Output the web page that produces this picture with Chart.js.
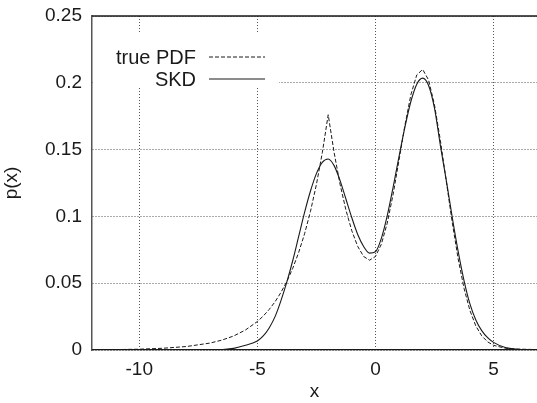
<!DOCTYPE html>
<html>
<head>
<meta charset="utf-8">
<script src="https://cdn.jsdelivr.net/npm/chart.js@4"></script>
<style>
  html, body { margin: 0; padding: 0; background: #fff; overflow: hidden; }
  #wrap { position: relative; width: 537px; height: 403px; }
</style>
</head>
<body>
<div id="wrap"><canvas id="chart"></canvas></div>
<script>
// sample positions along x (shared by both curves)
const xs = [-12, -11, -10, -9, -8, -7, -6.5, -6, -5.5,
  -5, -4.75, -4.5, -4.25, -4, -3.75, -3.5, -3.25, -3, -2.75, -2.5, -2.25,
  -2, -1.75, -1.5, -1.25, -1, -0.75, -0.5, -0.25, 0, 0.25, 0.5, 0.75,
  1, 1.25, 1.5, 1.75, 2, 2.25, 2.5, 2.75, 3, 3.25, 3.5, 3.75,
  4, 4.25, 4.5, 4.75, 5, 5.5, 6, 6.5, 7];

const truePdf = [0.00015, 0.0003, 0.0006, 0.0013, 0.0026, 0.0052, 0.0074, 0.0105, 0.015,
  0.0213, 0.0254, 0.0303, 0.0361, 0.0431, 0.0513, 0.0612, 0.073, 0.087, 0.1038, 0.1238, 0.1476,
  0.1761, 0.1478, 0.1242, 0.1048, 0.0892, 0.0775, 0.07, 0.0672, 0.07, 0.0792, 0.095, 0.1167,
  0.1423, 0.1684, 0.191, 0.2059, 0.21, 0.2021, 0.1834, 0.1568, 0.1262, 0.0957, 0.0684, 0.0462,
  0.0296, 0.018, 0.0106, 0.0061, 0.0035, 0.0013, 0.0007, 0.00045, 0.0003];

const skd = [0, 0, 0, 0, 0, 0, 0.0003, 0.0012, 0.0035,
  0.0068, 0.0105, 0.0165, 0.025, 0.037, 0.051, 0.067, 0.085, 0.103, 0.119, 0.132, 0.1405,
  0.143, 0.138, 0.127, 0.113, 0.099, 0.0865, 0.0775, 0.0725, 0.0735, 0.0835, 0.1005, 0.122,
  0.145, 0.167, 0.186, 0.199, 0.2035, 0.198, 0.181, 0.153, 0.127, 0.0995, 0.074, 0.052,
  0.0345, 0.0225, 0.0145, 0.0092, 0.0057, 0.0018, 0.0005, 0.0001, 0];

const xTicks = [-10, -5, 0, 5];
const xTickLabels = ['-10', '-5', '0', '5'];
const yTicks = [0, 0.05, 0.1, 0.15, 0.2, 0.25];
const yTickLabels = ['0', '0.05', '0.1', '0.15', '0.2', '0.25'];

const seriesNames = ['true PDF', 'SKD'];

const FONT = {family: "'Liberation Sans', Arial, sans-serif", size: 19};
const INK = '#1a1a1a';

const toPoints = (ys) => xs.map((x, i) => ({x, y: ys[i]}));

// gnuplot-style frame top edge and inset key
const frameAndKey = {
  id: 'frameAndKey',
  beforeDatasetsDraw(chart) {
    const {ctx, chartArea: area} = chart;
    ctx.save();
    ctx.fillStyle = '#fff';
    ctx.fillRect(area.left + 1, 33, 186, 55);

    ctx.font = `20px ${FONT.family}`;
    ctx.fillStyle = INK;
    ctx.textAlign = 'right';
    ctx.textBaseline = 'middle';
    chart.data.datasets.forEach((ds, i) => {
      const y = 57 + i * 22;
      ctx.fillText(ds.label, 196, y + 1);
      ctx.beginPath();
      ctx.setLineDash(ds.borderDash || []);
      ctx.lineWidth = ds.borderWidth;
      ctx.strokeStyle = ds.borderColor;
      ctx.moveTo(209, y);
      ctx.lineTo(265, y);
      ctx.stroke();
    });
    ctx.restore();
  },
  afterDraw(chart) {
    const {ctx, chartArea: area} = chart;
    ctx.save();
    ctx.strokeStyle = INK;
    ctx.lineWidth = 1.3;
    ctx.beginPath();
    ctx.moveTo(area.left, area.top);
    ctx.lineTo(area.right, area.top);
    ctx.stroke();
    ctx.restore();
  },
};

new Chart(document.getElementById('chart'), {
  type: 'line',
  data: {
    datasets: [
      {
        label: seriesNames[0],
        data: toPoints(truePdf),
        borderColor: INK,
        borderWidth: 1,
        borderDash: [4, 2],
        tension: 0,
        pointRadius: 0,
      },
      {
        label: seriesNames[1],
        data: toPoints(skd),
        borderColor: INK,
        borderWidth: 1.1,
        cubicInterpolationMode: 'monotone',
        pointRadius: 0,
      },
    ],
  },
  options: {
    responsive: true,
    maintainAspectRatio: false,
    animation: false,
    layout: {padding: {top: 16, right: 0, left: 0, bottom: 0}},
    plugins: {
      legend: {display: false},
      tooltip: {enabled: false},
    },
    scales: {
      x: {
        type: 'linear',
        min: -12,
        max: 6.84,
        afterBuildTicks: (scale) => {
          scale.ticks = xTicks.map((value) => ({value}));
        },
        afterFit: (scale) => {
          scale.height = 53;
          scale.paddingLeft = 0;
          scale.paddingRight = 0;
        },
        ticks: {
          font: FONT,
          color: INK,
          padding: 8,
          maxRotation: 0,
          callback: (value) => xTickLabels[xTicks.indexOf(value)],
        },
        grid: {color: '#555', lineWidth: 1, drawTicks: false},
        border: {color: INK, width: 1.3, dash: [1, 2]},
        title: {display: true, text: 'x', font: FONT, color: INK, padding: 0},
      },
      y: {
        min: 0,
        max: 0.25,
        afterBuildTicks: (scale) => {
          scale.ticks = yTicks.map((value) => ({value}));
        },
        afterFit: (scale) => {
          scale.width = 92;
          scale.paddingTop = 0;
          scale.paddingBottom = 0;
        },
        ticks: {
          font: FONT,
          color: INK,
          padding: 10,
          callback: (value) => yTickLabels[yTicks.indexOf(value)],
        },
        grid: {color: '#555', lineWidth: 1, drawTicks: false},
        border: {color: '#555', width: 1.5, dash: [1, 2]},
        title: {display: true, text: 'p(x)', font: FONT, color: INK, padding: 0},
      },
    },
  },
  plugins: [frameAndKey],
});
</script>
</body>
</html>
